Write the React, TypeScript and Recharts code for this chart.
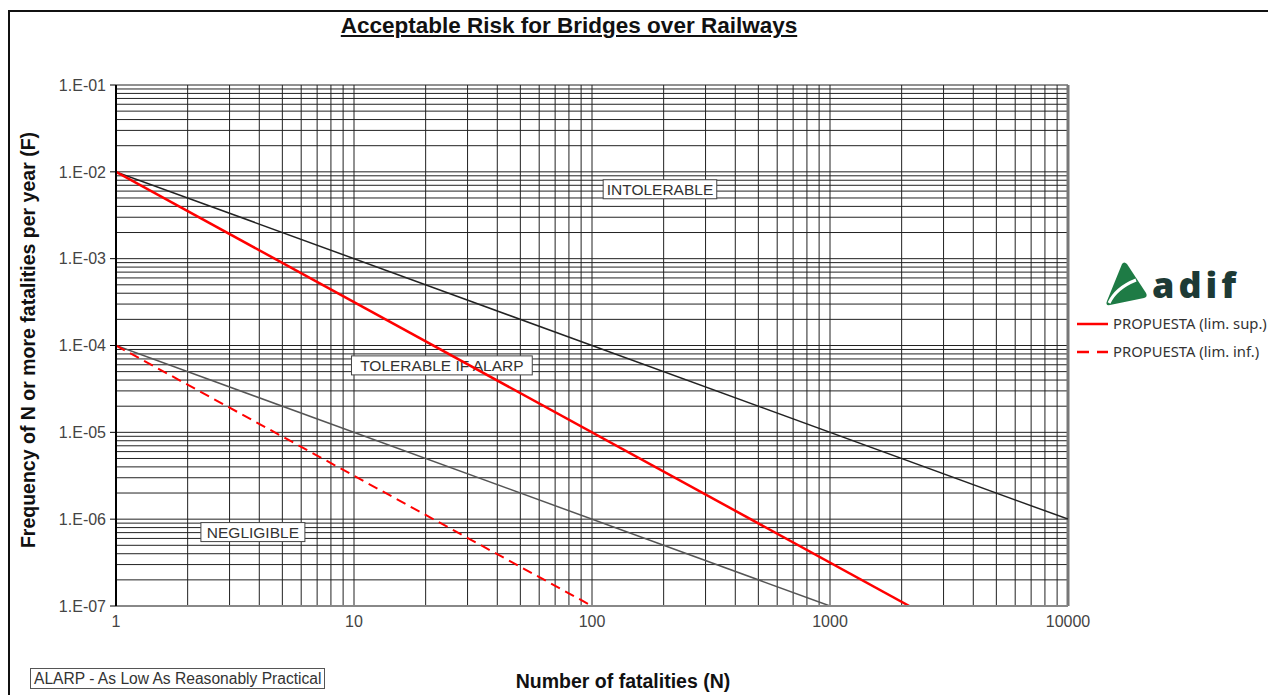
import React from "react";
import {
  LineChart,
  Line,
  XAxis,
  YAxis,
  ReferenceLine,
  ReferenceDot,
} from "recharts";

// axis ticks (log-log)
const N_TICKS = [1, 10, 100, 1000, 10000];
const F_TICKS = [1e-7, 1e-6, 1e-5, 1e-4, 1e-3, 1e-2, 1e-1];

// F-N limit lines, each as two end points
const intolerableLimit = [
  { n: 1, f: 1e-2 },
  { n: 10000, f: 1e-6 },
];
const negligibleLimit = [
  { n: 1, f: 1e-4 },
  { n: 1000, f: 1e-7 },
];
const propuestaSup = [
  { n: 1, f: 1e-2 },
  { n: 2154, f: 1e-7 },
];
const propuestaInf = [
  { n: 1, f: 1e-4 },
  { n: 100, f: 1e-7 },
];

// region labels
const REGIONS = [
  { n: 193, f: 6.3e-3, text: "INTOLERABLE" },
  { n: 23.4, f: 5.9e-5, text: "TOLERABLE IF ALARP" },
  { n: 3.76, f: 7.1e-7, text: "NEGLIGIBLE" },
];

const FONT = '"Liberation Sans", Arial, sans-serif';

// log minor grid: 1..9 x each decade
const logGrid = (majors: number[]) =>
  majors.slice(0, -1).flatMap((d) => [1, 2, 3, 4, 5, 6, 7, 8, 9].map((k) => k * d)).concat(majors[majors.length - 1]);

const X_GRID = logGrid(N_TICKS);
const Y_GRID = logGrid(F_TICKS);

const fmtF = (v: number) => `1.E-${String(Math.round(-Math.log10(v))).padStart(2, "0")}`;

const RegionBox = (props: any) => {
  const { cx, cy, payload } = props;
  const text: string = payload?.text ?? "";
  const w = text.length * 9.6 + 8;
  return (
    <g>
      <rect x={cx - w / 2} y={cy - 9.5} width={w} height={19} fill="#fff" stroke="#444" strokeWidth={1} />
      <text x={cx} y={cy + 5.5} textAnchor="middle" fontFamily={FONT} fontSize={15.5} fill="#333">
        {text}
      </text>
    </g>
  );
};

const AdifLogo = () => (
  <svg width={160} height={50} style={{ position: "absolute", left: 1100, top: 258 }}>
    <path d="M22 6 Q24 3 27 6 L46 35 Q48 39 44 40 L10 47 Q5 48 7 43 Z" fill="#1e7b45" />
    <path d="M9 45 Q16 30 36 22" stroke="#fff" strokeWidth={3} fill="none" />
    <text x={52} y={40} fontFamily='"Open Sans", "Noto Sans", sans-serif' fontWeight={800} fontSize={36} letterSpacing={4} fill="#1d3a35">
      adif
    </text>
  </svg>
);

export default function App() {
  return (
    <div style={{ position: "absolute", left: 0, top: 0, width: 1268, height: 695, overflow: "hidden", background: "#fff", fontFamily: FONT }}>
      <div style={{ position: "absolute", left: 8, top: 10, width: 1300, height: 720, borderTop: "2px solid #111", borderLeft: "2px solid #111" }} />
      <div style={{ position: "absolute", left: 0, top: 13, width: 1138, textAlign: "center", fontWeight: 700, fontSize: 22.5, textDecoration: "underline", color: "#111" }}>
        Acceptable Risk for Bridges over Railways
      </div>
      <div style={{ position: "absolute", left: 0, top: 670, width: 1246, textAlign: "center", fontWeight: 700, fontSize: 19.5, color: "#111" }}>
        Number of fatalities (N)
      </div>
      <div style={{ position: "absolute", left: 28, top: 340, transform: "translate(-50%, -50%) rotate(-90deg)", whiteSpace: "nowrap", fontWeight: 700, fontSize: 19.5, color: "#111" }}>
        Frequency of N or more fatalities per year (F)
      </div>
      <div style={{ position: "absolute", left: 30, top: 668, height: 19, padding: "0 3px", border: "1px solid #555", fontSize: 15.6, lineHeight: "19px", color: "#333" }}>
        ALARP - As Low As Reasonably Practical
      </div>

      <LineChart width={1268} height={695} margin={{ top: 85, right: 200, bottom: 59, left: 56 }} style={{ position: "absolute", left: 0, top: 0 }}>
        <XAxis
          dataKey="n"
          type="number"
          scale="log"
          domain={[1, 10000]}
          ticks={N_TICKS}
          allowDataOverflow
          height={30}
          tickLine={false}
          tickSize={6}
          tickMargin={4}
          axisLine={{ stroke: "#888", strokeWidth: 2 }}
          tick={{ fill: "#444", fontSize: 16, fontFamily: FONT }}
        />
        <YAxis
          type="number"
          scale="log"
          domain={[1e-7, 1e-1]}
          ticks={F_TICKS}
          allowDataOverflow
          width={60}
          tickFormatter={fmtF}
          tickSize={6}
          tickMargin={4}
          tickLine={{ stroke: "#000" }}
          axisLine={{ stroke: "#000", strokeWidth: 2 }}
          tick={{ fill: "#444", fontSize: 16, fontFamily: FONT }}
        />
        {Y_GRID.map((v) => (
          <ReferenceLine key={`h${v}`} y={v} stroke="#222" strokeWidth={1} zIndex={100} />
        ))}
        {X_GRID.map((v) => (
          <ReferenceLine key={`v${v}`} x={v} stroke="#222" strokeWidth={1} zIndex={100} />
        ))}
        <ReferenceLine x={10000} stroke="#777" strokeWidth={3} zIndex={100} />
        {REGIONS.map((r) => (
          <ReferenceDot key={r.text} x={r.n} y={r.f} r={0} zIndex={300} shape={(p: any) => <RegionBox {...p} payload={r} />} />
        ))}
        <Line data={intolerableLimit} dataKey="f" stroke="#222" strokeWidth={1.5} dot={false} isAnimationActive={false} />
        <Line data={negligibleLimit} dataKey="f" stroke="#555" strokeWidth={1.5} dot={false} isAnimationActive={false} />
        <Line data={propuestaSup} dataKey="f" stroke="#ff0000" strokeWidth={2.5} dot={false} isAnimationActive={false} />
        <Line data={propuestaInf} dataKey="f" stroke="#ff0000" strokeWidth={2} strokeDasharray="10 6" dot={false} isAnimationActive={false} />
      </LineChart>

      <AdifLogo />
      <svg width={200} height={60} style={{ position: "absolute", left: 1070, top: 310 }}>
        <line x1={7} y1={14} x2={38} y2={14} stroke="#ff0000" strokeWidth={2.5} />
        <line x1={7} y1={42} x2={38} y2={42} stroke="#ff0000" strokeWidth={2.5} strokeDasharray="12 8" />
        <text x={43} y={19} fontFamily='"Noto Sans", sans-serif' fontSize={14.8} fill="#333">PROPUESTA (lim. sup.)</text>
        <text x={43} y={47} fontFamily='"Noto Sans", sans-serif' fontSize={14.8} fill="#333">PROPUESTA (lim. inf.)</text>
      </svg>
    </div>
  );
}
